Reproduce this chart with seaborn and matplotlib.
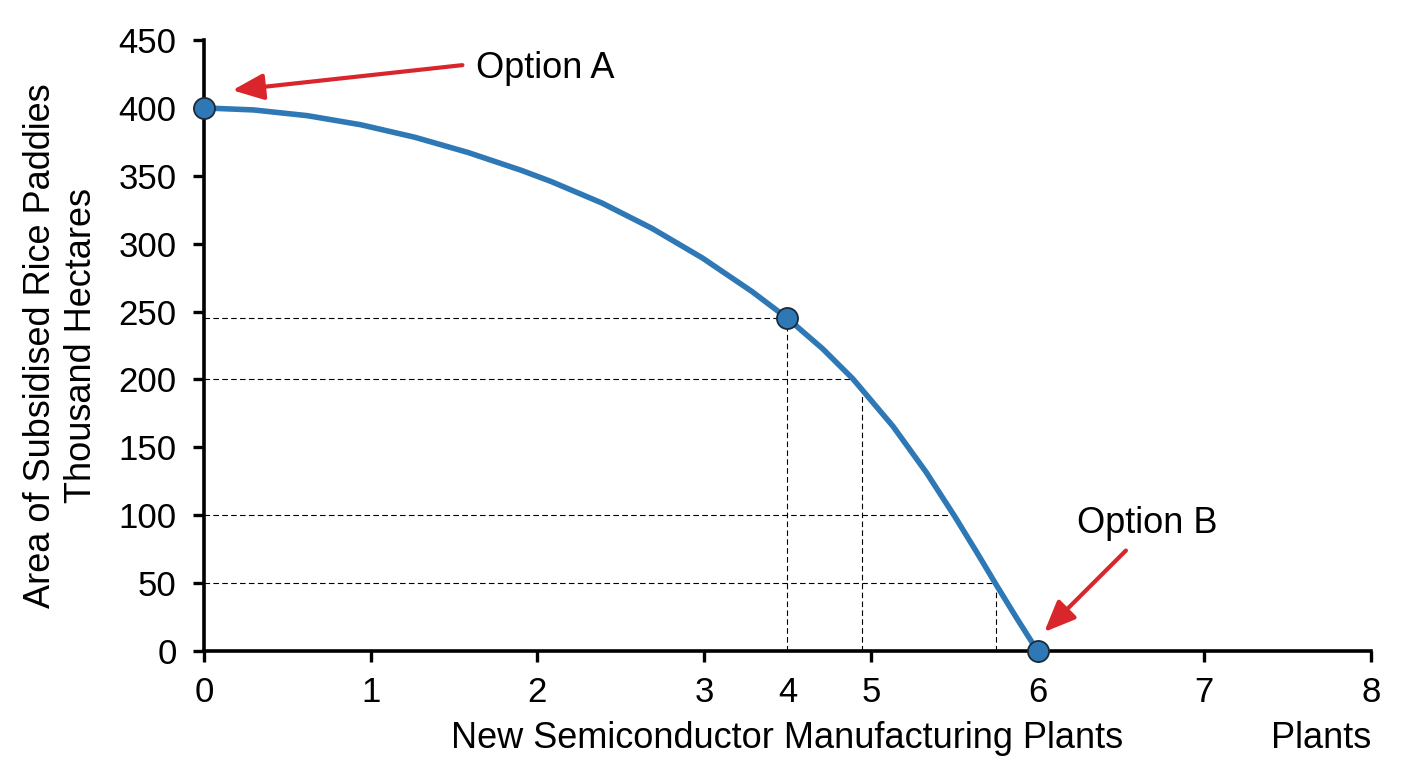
import numpy as np
import pandas as pd
import matplotlib
matplotlib.use("Agg")
import matplotlib.pyplot as plt
import seaborn as sns

# curve (x in axis position units, y in thousand hectares)
curve_x = [0.0, 0.297, 0.619, 0.940, 1.261, 1.583, 1.904, 2.084, 2.386,
           2.687, 2.988, 3.289, 3.5, 3.711, 3.892, 4.133, 4.333, 4.504,
           4.634, 4.755, 4.875, 5.0]
curve_y = [400, 398.5, 394.3, 387.6, 378.5, 367.2, 354.0, 345.7, 330.0,
           311.3, 289.6, 264.6, 245.0, 222.6, 200.5, 165.5, 131.5, 99.0,
           73.0, 48.2, 24.2, 0]

# highlighted points
point_x = [0.0, 3.5, 5.0]
point_y = [400, 245, 0]

# dashed guides
hline_y = [245, 200, 100, 50]
hline_end = [3.5, 3.895, 4.5, 4.75]
vline_x = [3.5, 3.945, 4.753]
vline_top = [245, 193, 50]

# axis ticks
xtick_pos = [0, 1, 2, 3, 3.5, 4, 5, 6, 7]
xtick_labels = ["0", "1", "2", "3", "4", "5", "6", "7", "8"]
ytick_pos = [0, 50, 100, 150, 200, 250, 300, 350, 400, 450]

BLUE = "#2E78B6"
RED = "#D9262C"
FS = 26
TICK_FS = 25

sns.set_style("ticks", {"text.color": "black", "axes.labelcolor": "black",
                        "xtick.color": "black", "ytick.color": "black",
                        "axes.edgecolor": "black"})
plt.rcParams["font.family"] = ["Liberation Sans", "DejaVu Sans"]

fig = plt.figure(figsize=(14.08, 7.68), dpi=100)
ax = fig.add_axes([0.1449, 0.1523, 0.9737 - 0.1449, 0.9479 - 0.1523])

# dashed guides
for y, xe in zip(hline_y, hline_end):
    ax.plot([0, xe], [y, y], ls=(0, (5, 3)), color="black", lw=0.8, zorder=1)
for x, yt in zip(vline_x, vline_top):
    ax.plot([x, x], [0, yt], ls=(0, (5, 3)), color="black", lw=0.8, zorder=1)

curve = pd.DataFrame({"x": curve_x, "y": curve_y})
sns.lineplot(data=curve, x="x", y="y", sort=False, color=BLUE, lw=4.0,
             ax=ax, zorder=3)

pts = pd.DataFrame({"x": point_x, "y": point_y})
sns.scatterplot(data=pts, x="x", y="y", s=230, color=BLUE,
                edgecolor="#1d2a3a", linewidth=1.3, ax=ax, zorder=5,
                clip_on=False)

# annotations
arrow = dict(arrowstyle="-|>,head_length=1.9,head_width=0.8",
             color=RED, lw=3.0, shrinkA=0, shrinkB=0)
ax.annotate("", xy=(0.17, 413), xytext=(1.55, 431.5), arrowprops=arrow)
ax.text(1.63, 429, "Option A", fontsize=FS, ha="left", va="center")

ax.annotate("", xy=(5.04, 14), xytext=(5.53, 74), arrowprops=arrow)
ax.text(5.66, 94, "Option B", fontsize=FS, ha="center", va="center")

ax.set_xlim(0, 7)
ax.set_ylim(0, 450)
ax.set_xticks(xtick_pos)
ax.set_xticklabels(xtick_labels)
ax.set_yticks(ytick_pos)
ax.xaxis.get_major_ticks()[4].tick1line.set_visible(False)

ax.tick_params(axis="both", labelsize=TICK_FS, length=7.7, width=2.4,
               direction="out", color="black")
ax.tick_params(axis="x", pad=10.5)
ax.tick_params(axis="y", pad=12)
for side in ("top", "right"):
    ax.spines[side].set_visible(False)
for side in ("left", "bottom"):
    ax.spines[side].set_linewidth(2.6)

ax.set_xlabel("New Semiconductor Manufacturing Plants", fontsize=FS)
ax.xaxis.set_label_coords(0.5, -0.159)
ax.xaxis.label.set_va("baseline")
ax.set_ylabel("Area of Subsidised Rice Paddies\nThousand Hectares",
              fontsize=FS, linespacing=1.25)
ax.yaxis.set_label_coords(-0.1225, 0.5)
ax.yaxis.label.set_va("center")
ax.text(7.0, -0.159, "Plants", transform=ax.get_xaxis_transform(),
        fontsize=FS, ha="right", va="baseline")

fig.savefig("out.png", dpi=100)
